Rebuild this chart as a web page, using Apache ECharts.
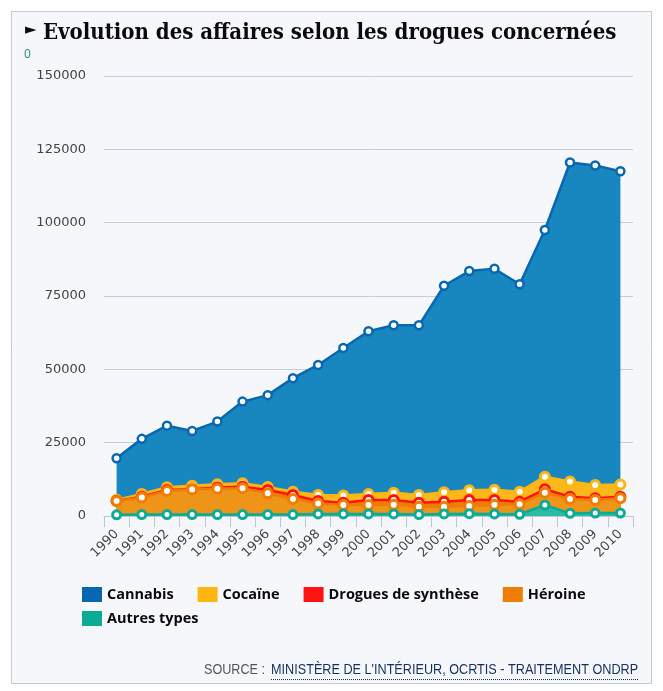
<!DOCTYPE html>
<html><head><meta charset="utf-8">
<style>html,body{margin:0;padding:0;background:#fff}#c{width:663px;height:691px}</style>
<script src="https://cdn.jsdelivr.net/npm/echarts@6/dist/echarts.min.js"></script>
</head><body><div id="c"></div>
<script>
const years=['1990','1991','1992','1993','1994','1995','1996','1997','1998','1999','2000','2001','2002','2003','2004','2005','2006','2007','2008','2009','2010'];
const cannabis=[19700,26300,30800,29000,32200,39000,41200,47000,51500,57300,63000,65000,65000,78500,83500,84300,79000,97500,120500,119500,117500];
const cocaine=[5500,7500,9800,10300,10800,11200,9900,8300,7200,7000,7500,7950,7160,8080,8750,8970,8300,13400,11800,10570,10700];
const synth=[5100,6600,8860,9100,9700,10000,8860,7150,5100,4540,5450,5450,4540,4880,5450,5450,4880,9100,6600,6030,6600];
const heroine=[5100,6300,8500,9000,9300,9500,7740,5800,4300,3750,3750,3860,3190,3190,3420,3860,3990,7950,5800,5450,6030];
const autres=[400,500,500,500,500,500,500,500,700,700,700,700,500,700,800,700,600,3750,900,1000,1000];
const names=['Cannabis','Cocaïne','Drogues de synthèse','Héroine','Autres types'];
const lineColors=['#0867b1','#ffb612','#fe1313','#ef7d00','#0dab96'];
const fillColors=['#1887bf','#ffb81c','#ef7d00','#ee9519','#2bbba5'];
const seriesValues=[cannabis,cocaine,synth,heroine,autres];
const title='Evolution des affaires selon les drogues concernées';
const sourceLabel='SOURCE : ';
const sourceText="MINISTÈRE DE L'INTÉRIEUR, OCRTIS - TRAITEMENT ONDRP";
const chart=echarts.init(document.getElementById('c'),null,{renderer:'canvas'});
const legendBase={itemWidth:20,itemHeight:15,icon:'rect',padding:0,
  textStyle:{fontFamily:'"Open Sans"',fontWeight:'bold',fontSize:14.5,color:'#0a0a0a',padding:[0,0,0,0]},itemStyle:{borderWidth:0}};
const legendData=names.map((n,i)=>({name:n,icon:'rect',itemStyle:{color:lineColors[i],borderWidth:0}}));
chart.setOption({
  animation:false,
  backgroundColor:'#fff',
  title:{text:title,left:38,top:17,textStyle:{fontFamily:'"DejaVu Serif Condensed","DejaVu Serif"',fontWeight:'bold',fontSize:22,color:'#0a0a0a'}},
  graphic:[
    {type:'rect',z:-10,shape:{x:11.5,y:11.5,width:640,height:672},style:{fill:'#f5f7fb',stroke:'#c5c9d3',lineWidth:1}},
    {type:'text',x:25,y:23,style:{text:'►',fontSize:15,fill:'#0a0a0a',fontFamily:'"DejaVu Sans"'}},
    {type:'text',x:24,y:49,style:{text:'0',fontSize:12,fill:'#2a8a78',fontFamily:'"Open Sans"'}},
    {type:'text',x:271,y:663,scaleX:0.904,style:{text:sourceText,fontSize:14,fill:'#14305c',fontFamily:'"Liberation Sans"'}},
    {type:'text',x:204,y:663,scaleX:0.9,style:{text:sourceLabel,fontSize:14,fill:'#555',fontFamily:'"Liberation Sans"'}},
    {type:'line',shape:{x1:271,y1:679.5,x2:639,y2:679.5},style:{stroke:'#14305c',lineWidth:1,lineDash:[1,1]}}
  ],
  legend:[
    Object.assign({},legendBase,{left:82,top:587,itemGap:24,data:legendData.slice(0,4)}),
    Object.assign({},legendBase,{left:82,top:611,itemGap:24,data:legendData.slice(4)})
  ],
  grid:{left:104,right:30,top:76,height:440},
  xAxis:{type:'category',data:years,boundaryGap:true,
    axisLine:{lineStyle:{color:'#b8c8d8',width:1}},
    axisTick:{show:true,length:11,lineStyle:{color:'#b8c8d8'}},
    axisLabel:{interval:0,rotate:45,fontSize:13,color:'#444',fontFamily:'"DejaVu Sans"',margin:16}},
  yAxis:{type:'value',min:0,max:150000,interval:25000,
    axisLine:{show:false},axisTick:{show:false},
    splitLine:{lineStyle:{color:'#c8ccd4',width:1}},
    axisLabel:{formatter:v=>String(v),fontSize:13,color:'#444',fontFamily:'"DejaVu Sans"',margin:18}},
  series:seriesValues.map((d,i)=>({
    name:names[i],type:'line',data:d,z:2+i,
    color:lineColors[i],
    symbol:'circle',symbolSize:i===0?8:(i===4?8:9),showSymbol:true,
    lineStyle:{color:lineColors[i],width:2.5},
    itemStyle:{color:'#fff',borderColor:lineColors[i],borderWidth:i===0?2.5:3},
    areaStyle:{color:fillColors[i],opacity:1}
  }))
});
</script></body></html>
